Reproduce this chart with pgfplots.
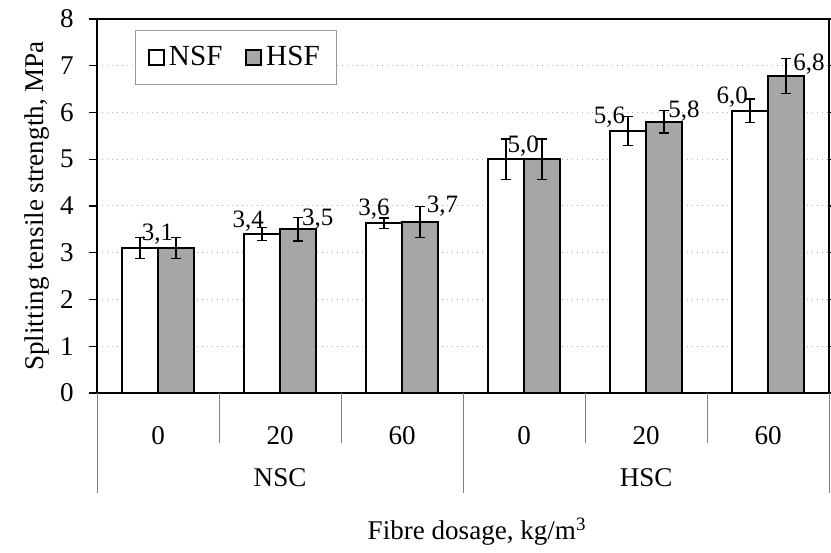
\documentclass[border=0pt,12pt]{standalone}
\usepackage{fontspec}
\setmainfont{Liberation Serif}
\usepackage{pgfplots}
\usepackage{pgfplotstable}
\pgfplotsset{compat=1.18}
\definecolor{hsfgray}{RGB}{166,166,166}
\definecolor{sepgray}{RGB}{128,128,128}

% x = category centre -/+ half bar, dx/dy = label offsets (pt)
\pgfplotstableread{
x       y     e     lab    dx    dy
0.3525  3.10  0.22  {3,1}  8.4   3.8
1.3525  3.40  0.14  {3,4}  -6.7  2.9
2.3525  3.63  0.11  {3,6}  -4.8  3.8
3.3525  5.00  0.43  {5,0}  8.2   3.4
4.3525  5.60  0.31  {5,6}  -8.9  3.8
5.3525  6.04  0.25  {6,0}  -8.6  3.4
}\nsf
\pgfplotstableread{
x       y     e     lab    dx    dy
0.6475  3.10  0.22  {}     0     0
1.6475  3.50  0.25  {3,5}  9.4   1.9
2.6475  3.66  0.33  {3,7}  10.8  4.3
3.6475  5.00  0.43  {}     0     0
4.6475  5.80  0.24  {5,8}  9.6   1.9
5.6475  6.78  0.37  {6,8}  11.0  2.4
}\hsf

\begin{document}
\fontsize{13}{15.6}\selectfont
\begin{tikzpicture}
\path[use as bounding box] (-46.6pt,-76.8pt) rectangle (352.3pt,188.6pt);
\begin{axis}[
    name=ax, at={(0pt,0pt)}, anchor=south west,
    scale only axis, width=351.4pt, height=179.5pt,
    xmin=0, xmax=6, ymin=0, ymax=8,
    ytick={0,1,...,8},
    xtick={0.5,1.5,...,5.5}, xticklabels={0,20,60,0,20,60},
    xtick style={draw=none},
    ytick style={black, line width=0.6pt},
    tick align=outside, major tick length=4pt,
    xticklabel style={anchor=base, yshift=-21pt},
    yticklabel style={anchor=east, inner sep=0pt, xshift=-7pt},
    /pgf/number format/assume math mode=true,
    ymajorgrids, grid style={gray!60, dotted, line width=0.5pt},
    axis line style={black, line width=0.9pt},
    clip=false,
    ybar, bar width=0.295,
    legend columns=2,
    legend style={at={(0.052,0.971)}, anchor=north west,
        font=\fontsize{14}{16}\selectfont,
        draw=gray!80, line width=0.5pt, inner xsep=6pt, inner ysep=5.5pt,
        /tikz/every even column/.append style={column sep=9pt}},
    legend image code/.code={\draw[#1, line width=0.8pt] (0pt,-3.6pt) rectangle (7.2pt,3.6pt);},
    point meta=explicit symbolic,
    nodes near coords,
    visualization depends on={\thisrow{dx} \as \dx},
    visualization depends on={\thisrow{dy} \as \dy},
    every node near coord/.append style={anchor=base, inner sep=0pt,
        font=\fontsize{12}{14}\selectfont, xshift=\dx pt, yshift=\dy pt},
]
\addplot[bar shift=0pt, fill=white, draw=black, line width=0.9pt,
    error bars/.cd, y dir=both, y explicit,
    error bar style={line width=0.7pt, black},
    error mark options={rotate=90, mark size=2.4pt, line width=0.7pt, black}]
    table[x=x, y=y, y error=e, meta=lab] {\nsf};
\addplot[bar shift=0pt, fill=hsfgray, draw=black, line width=0.9pt,
    error bars/.cd, y dir=both, y explicit,
    error bar style={line width=0.7pt, black},
    error mark options={rotate=90, mark size=2.4pt, line width=0.7pt, black}]
    table[x=x, y=y, y error=e, meta=lab] {\hsf};
\legend{NSF, HSF}

\draw[sepgray, line width=0.5pt] (axis cs:1,0) -- ++(0pt,-24pt);
\draw[sepgray, line width=0.5pt] (axis cs:2,0) -- ++(0pt,-24pt);
\draw[sepgray, line width=0.5pt] (axis cs:4,0) -- ++(0pt,-24pt);
\draw[sepgray, line width=0.5pt] (axis cs:5,0) -- ++(0pt,-24pt);
\draw[sepgray, line width=0.5pt] (axis cs:0,0) -- ++(0pt,-48pt);
\draw[sepgray, line width=0.5pt] (axis cs:3,0) -- ++(0pt,-48pt);
\draw[sepgray, line width=0.5pt] (axis cs:6,0) -- ++(0pt,-48pt);
\node[anchor=base, yshift=-45pt] at (axis cs:1.5,0) {NSC};
\node[anchor=base, yshift=-45pt] at (axis cs:4.5,0) {HSC};
\node[anchor=base, yshift=-70.6pt] at (axis cs:3.115,0) {Fibre dosage, kg/m\textsuperscript{3}};
\node[rotate=90, anchor=base] at ([xshift=-25.9pt]rel axis cs:0,0.5) {Splitting tensile strength, MPa};
\end{axis}
\end{tikzpicture}
\end{document}
